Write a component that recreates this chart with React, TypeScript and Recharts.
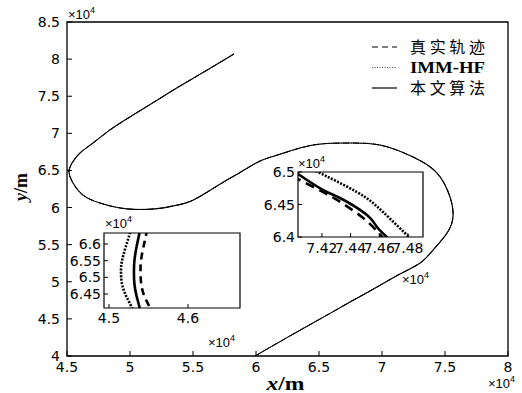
import React from 'react';
import { LineChart, Line, XAxis, YAxis, ReferenceArea, Legend, Label } from 'recharts';

type Pt = { x: number; y: number };

// ---------- data (x, y in units of 1e4 m) ----------
const seriesNames = ['真实轨迹', 'IMM-HF', '本文算法'];

const mainXTicks = [4.5, 5, 5.5, 6, 6.5, 7, 7.5, 8];
const mainYTicks = [4, 4.5, 5, 5.5, 6, 6.5, 7, 7.5, 8, 8.5];
const mainXDomain = [4.5, 8];
const mainYDomain = [4, 8.5];

const mainTrack: Pt[] = [
  { x: 5.825, y: 8.069 },
  { x: 5.6, y: 7.84 },
  { x: 5.4, y: 7.64 },
  { x: 5.18, y: 7.41 },
  { x: 4.96, y: 7.179 },
  { x: 4.82, y: 7.02 },
  { x: 4.706, y: 6.869 },
  { x: 4.603, y: 6.735 },
  { x: 4.54, y: 6.6 },
  { x: 4.516, y: 6.478 },
  { x: 4.548, y: 6.33 },
  { x: 4.627, y: 6.168 },
  { x: 4.762, y: 6.061 },
  { x: 4.976, y: 5.982 },
  { x: 5.214, y: 5.985 },
  { x: 5.35, y: 6.025 },
  { x: 5.5, y: 6.1 },
  { x: 5.7, y: 6.3 },
  { x: 5.88, y: 6.48 },
  { x: 6.032, y: 6.627 },
  { x: 6.19, y: 6.718 },
  { x: 6.452, y: 6.842 },
  { x: 6.722, y: 6.869 },
  { x: 6.984, y: 6.842 },
  { x: 7.246, y: 6.681 },
  { x: 7.437, y: 6.465 },
  { x: 7.54, y: 6.142 },
  { x: 7.563, y: 5.872 },
  { x: 7.516, y: 5.656 },
  { x: 7.405, y: 5.427 },
  { x: 7.302, y: 5.252 },
  { x: 7.143, y: 5.104 },
  { x: 6.96, y: 4.929 },
  { x: 6.76, y: 4.74 },
  { x: 6.563, y: 4.551 },
  { x: 6.3, y: 4.3 },
  { x: 6.032, y: 4.039 },
  { x: 5.99, y: 3.99 },
];
const truthMain = mainTrack;
const immMain = mainTrack;
const oursMain = mainTrack;

// inset A (left turn)
const zoomAXTicks = [4.5, 4.6];
const zoomAYTicks = [6.45, 6.5, 6.55, 6.6];
const zoomAXDomain = [4.4937, 4.6658];
const zoomAYDomain = [6.408, 6.633];
const truthA: Pt[] = [
  { x: 4.5485, y: 6.645 }, { x: 4.5475, y: 6.633 }, { x: 4.5435, y: 6.59 },
  { x: 4.5405, y: 6.55 }, { x: 4.5399, y: 6.519 }, { x: 4.5408, y: 6.48 },
  { x: 4.5445, y: 6.445 }, { x: 4.5495, y: 6.42 }, { x: 4.5535, y: 6.4 },
];
const immA: Pt[] = [
  { x: 4.5276, y: 6.645 }, { x: 4.5266, y: 6.633 }, { x: 4.521, y: 6.59 },
  { x: 4.5165, y: 6.55 }, { x: 4.5152, y: 6.519 }, { x: 4.5165, y: 6.48 },
  { x: 4.5215, y: 6.445 }, { x: 4.5268, y: 6.42 }, { x: 4.5305, y: 6.4 },
];
const oursA: Pt[] = [
  { x: 4.5394, y: 6.645 }, { x: 4.5386, y: 6.633 }, { x: 4.5348, y: 6.59 },
  { x: 4.5322, y: 6.55 }, { x: 4.5316, y: 6.519 }, { x: 4.5322, y: 6.48 },
  { x: 4.5348, y: 6.445 }, { x: 4.5376, y: 6.42 }, { x: 4.5396, y: 6.4 },
];

// inset B (right turn)
const zoomBXTicks = [7.42, 7.44, 7.46, 7.48];
const zoomBYTicks = [6.4, 6.45, 6.5];
const zoomBXDomain = [7.4033, 7.4905];
const zoomBYDomain = [6.4, 6.5];
const truthB: Pt[] = [
  { x: 7.4, y: 6.495 }, { x: 7.4046, y: 6.4877 }, { x: 7.4221, y: 6.4677 },
  { x: 7.436, y: 6.4492 }, { x: 7.4479, y: 6.4308 }, { x: 7.457, y: 6.4123 },
  { x: 7.4626, y: 6.3985 }, { x: 7.464, y: 6.395 },
];
const immB: Pt[] = [
  { x: 7.416, y: 6.502 }, { x: 7.4172, y: 6.5 }, { x: 7.4444, y: 6.4692 },
  { x: 7.4626, y: 6.4385 }, { x: 7.4814, y: 6.3985 }, { x: 7.483, y: 6.395 },
];
const oursB: Pt[] = [
  { x: 7.4, y: 6.502 }, { x: 7.4033, y: 6.4969 }, { x: 7.4207, y: 6.4723 },
  { x: 7.4326, y: 6.46 }, { x: 7.4514, y: 6.4338 }, { x: 7.4584, y: 6.4154 },
  { x: 7.466, y: 6.3985 }, { x: 7.467, y: 6.395 },
];

// ---------- helpers ----------
const TICK_FONT = '"DejaVu Sans", sans-serif';
const POW_FONT = '"Liberation Sans", Arial, sans-serif';

function makeXTick(len: number, dy: number) {
  return (p: any) => (
    <g>
      <line x1={p.x} x2={p.x} y1={p.y} y2={p.y - len} stroke="#000" strokeWidth={1} />
      <text x={p.x} y={p.y + dy} textAnchor="middle" fontFamily={TICK_FONT} fontSize={14} fill="#000">
        {String(p.payload.value)}
      </text>
    </g>
  );
}
function makeYTick(len: number, dx: number) {
  return (p: any) => (
    <g>
      <line x1={p.x} x2={p.x + len} y1={p.y} y2={p.y} stroke="#000" strokeWidth={1} />
      <text x={p.x - dx} y={p.y + 5} textAnchor="end" fontFamily={TICK_FONT} fontSize={14} fill="#000">
        {String(p.payload.value)}
      </text>
    </g>
  );
}

const Pow = ({ x, y }: { x: number; y: number }) => (
  <text x={x} y={y} fontFamily={POW_FONT} fontSize={13} fill="#000">
    ×10
    <tspan fontSize={9} dy={-6}>4</tspan>
  </text>
);

const LegendBox = () => {
  const rows = [
    { name: seriesNames[0], dash: '6 4', w: 1.2, font: '"Noto Sans CJK SC", sans-serif', weight: 400, color: '#000' },
    { name: seriesNames[1], dash: '1 1.5', w: 1, font: '"Liberation Serif", serif', weight: 700, color: '#444' },
    { name: seriesNames[2], dash: undefined, w: 1.2, font: '"Noto Sans CJK SC", sans-serif', weight: 400, color: '#000' },
  ];
  return (
    <svg width={150} height={78} style={{ display: 'block', overflow: 'visible' }}>
      {rows.map((r, i) => (
        <g key={r.name}>
          <line x1={7} x2={32} y1={14 + i * 20.5} y2={14 + i * 20.5} stroke={r.color} strokeWidth={r.w} strokeDasharray={r.dash} />
          <text x={45} y={14 + i * 20.5 + 5.5} fontFamily={r.font} fontWeight={r.weight} fontSize={16} fill="#000"
            textLength={75} lengthAdjust={i === 1 ? 'spacingAndGlyphs' : 'spacing'}>
            {r.name}
          </text>
        </g>
      ))}
    </svg>
  );
};

type InsetProps = {
  left: number; top: number; w: number; h: number;
  xDomain: number[]; yDomain: number[]; xTicks: number[]; yTicks: number[];
  truth: Pt[]; imm: Pt[]; ours: Pt[];
  topPow: { dx: number; dy: number }; botPow: { dx: number; dy: number };
  xLabelDy: number; dashTruth: string;
};

const Inset = (p: InsetProps) => {
  const padL = 50, padT = 25, padR = 30, padB = 55;
  return (
    <div style={{ position: 'absolute', left: p.left - padL, top: p.top - padT }}>
      <LineChart width={p.w + padL + padR} height={p.h + padT + padB}
        margin={{ top: padT, left: padL - 30, right: padR, bottom: padB - 20 }}>
        <XAxis type="number" dataKey="x" domain={p.xDomain} ticks={p.xTicks} allowDataOverflow
          height={20} tickSize={0} tickMargin={0} axisLine={false} tickLine={false} interval={0}
          tick={makeXTick(4, p.xLabelDy)}>
          <Label content={(lp: any) => <Pow x={lp.viewBox.x + lp.viewBox.width + p.botPow.dx} y={lp.viewBox.y + p.botPow.dy} />} />
        </XAxis>
        <YAxis type="number" dataKey="y" domain={p.yDomain} ticks={p.yTicks} allowDataOverflow
          width={30} tickSize={0} tickMargin={0} axisLine={false} tickLine={false} interval={0}
          tick={makeYTick(4, 3)}>
          <Label content={(lp: any) => <Pow x={lp.viewBox.x + lp.viewBox.width + p.topPow.dx} y={lp.viewBox.y + p.topPow.dy} />} />
        </YAxis>
        <ReferenceArea x1={p.xDomain[0]} x2={p.xDomain[1]} y1={p.yDomain[0]} y2={p.yDomain[1]}
          fill="#fff" fillOpacity={0} stroke="#000" strokeWidth={1.2} ifOverflow="visible" />
        <Line data={p.imm} dataKey="y" type="natural" stroke="#000" strokeWidth={2.6} strokeDasharray="2 1.4" dot={false} isAnimationActive={false} />
        <Line data={p.truth} dataKey="y" type="natural" stroke="#000" strokeWidth={2.6} strokeDasharray={p.dashTruth} dot={false} isAnimationActive={false} />
        <Line data={p.ours} dataKey="y" type="natural" stroke="#000" strokeWidth={2.6} dot={false} isAnimationActive={false} />
      </LineChart>
    </div>
  );
};

export default function App() {
  return (
    <div style={{ position: 'absolute', left: 0, top: 0, width: 522, height: 393, background: '#fff' }}>
      <LineChart width={522} height={393} margin={{ top: 22, right: 14, bottom: 7, left: 27 }}>
        <XAxis type="number" dataKey="x" domain={mainXDomain} ticks={mainXTicks} allowDataOverflow
          height={30} tickSize={0} tickMargin={0} axisLine={false} tickLine={false} interval={0}
          tick={makeXTick(5, 16)}>
          <Label content={(lp: any) => (
            <text x={lp.viewBox.x + lp.viewBox.width / 2 - 2} y={lp.viewBox.y + 34} textAnchor="middle"
              fontFamily='"Liberation Serif", serif' fontWeight={700} fontSize={18} fill="#000" textLength={38} lengthAdjust="spacingAndGlyphs">
              <tspan fontStyle="italic">x</tspan>/m
            </text>
          )} />
          <Label content={(lp: any) => <Pow x={lp.viewBox.x + lp.viewBox.width - 20} y={lp.viewBox.y + 32} />} />
        </XAxis>
        <YAxis type="number" dataKey="y" domain={mainYDomain} ticks={mainYTicks} allowDataOverflow
          width={40} tickSize={0} tickMargin={0} axisLine={false} tickLine={false} interval={0}
          tick={makeYTick(5, 7)}>
          <Label content={(lp: any) => {
            const cx = lp.viewBox.x - 6;
            const cy = lp.viewBox.y + lp.viewBox.height / 2 - 2;
            return (
              <text x={cx} y={cy} transform={`rotate(-90, ${cx}, ${cy})`} textAnchor="middle" dominantBaseline="central"
                fontFamily='"Liberation Serif", serif' fontWeight={700} fontSize={18} fill="#000">
                <tspan fontStyle="italic">y</tspan>/m
              </text>
            );
          }} />
          <Label content={(lp: any) => <Pow x={lp.viewBox.x + lp.viewBox.width + 1} y={lp.viewBox.y - 3} />} />
        </YAxis>
        <ReferenceArea x1={mainXDomain[0]} x2={mainXDomain[1]} y1={mainYDomain[0]} y2={mainYDomain[1]}
          fill="#fff" fillOpacity={0} stroke="#000" strokeWidth={1.3} ifOverflow="visible" />
        <Legend layout="vertical" verticalAlign="middle" align="center"
          wrapperStyle={{ position: 'absolute', left: 365, top: 33, width: 150, height: 78 }}
          content={() => <LegendBox />} />
        <Line name={seriesNames[0]} data={truthMain} dataKey="y" type="natural" stroke="#000" strokeWidth={1} strokeDasharray="6 4" dot={false} isAnimationActive={false} />
        <Line name={seriesNames[1]} data={immMain} dataKey="y" type="natural" stroke="#000" strokeWidth={1} strokeDasharray="1 1.5" dot={false} isAnimationActive={false} />
        <Line name={seriesNames[2]} data={oursMain} dataKey="y" type="natural" stroke="#000" strokeWidth={1.1} dot={false} isAnimationActive={false} />
      </LineChart>

      <Inset left={104} top={233} w={136} h={75}
        xDomain={zoomAXDomain} yDomain={zoomAYDomain} xTicks={zoomAXTicks} yTicks={zoomAYTicks}
        truth={truthA} imm={immA} ours={oursA}
        topPow={{ dx: 1, dy: -5 }} botPow={{ dx: -32, dy: 39 }} xLabelDy={15} dashTruth="7 5" />
      <Inset left={298} top={172} w={125} h={65}
        xDomain={zoomBXDomain} yDomain={zoomBYDomain} xTicks={zoomBXTicks} yTicks={zoomBYTicks}
        truth={truthB} imm={immB} ours={oursB}
        topPow={{ dx: 0, dy: -4 }} botPow={{ dx: -21, dy: 47 }} xLabelDy={16} dashTruth="9 6" />
    </div>
  );
}
